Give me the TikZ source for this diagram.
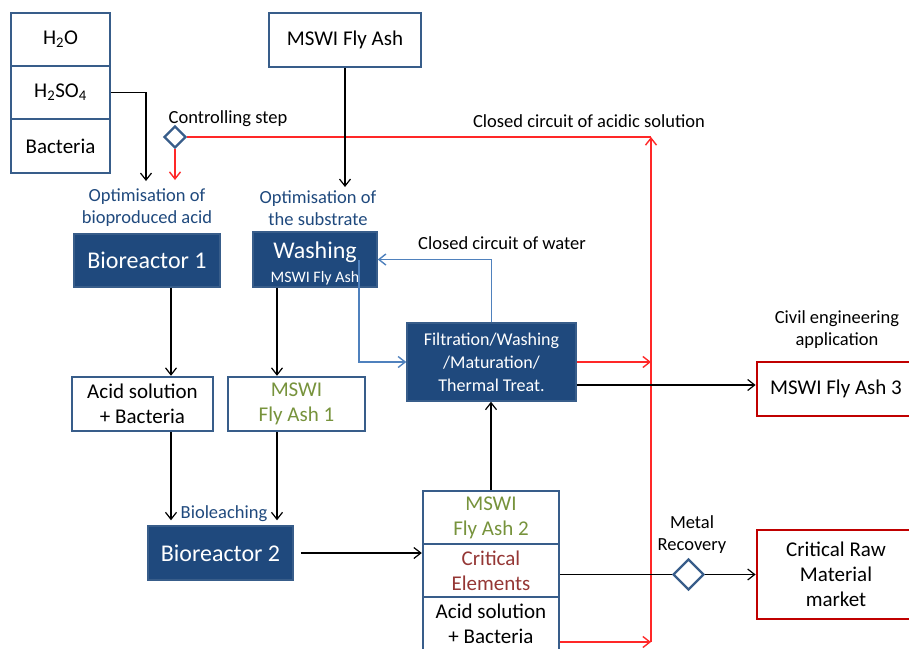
\documentclass[tikz,border=0pt]{standalone}
\usepackage{fontspec}
\setmainfont{Carlito}
\usetikzlibrary{arrows.meta,shapes.geometric,calc}

\definecolor{boxblue}{RGB}{56,93,138}
\definecolor{procblue}{RGB}{31,73,125}
\definecolor{ashgreen}{RGB}{119,147,60}
\definecolor{critred}{RGB}{149,55,53}
\definecolor{outred}{RGB}{192,0,0}
\definecolor{acidred}{RGB}{255,40,40}
\definecolor{waterblue}{RGB}{79,129,189}

\begin{document}
\begin{tikzpicture}[x=1pt,y=-1pt,
  font=\fontsize{21}{25}\selectfont,
  >={Straight Barb[length=7pt,width=11pt]},
  box/.style={draw=boxblue,line width=2.4pt,fill=white,inner sep=0pt,align=center},
  proc/.style={draw=boxblue,line width=1.5pt,fill=procblue,text=white,inner sep=0pt,align=center},
  market/.style={draw=outred,line width=2.8pt,fill=white,inner sep=0pt,align=center},
  lbl/.style={font=\fontsize{18.5}{22}\selectfont,align=center,inner sep=0pt},
  flow/.style={->,line width=1.2pt},
  acid/.style={line width=1.4pt,acidred},
  water/.style={->,line width=1.4pt,waterblue}]

\useasboundingbox (0,0) rectangle (909,648);

% inputs
\node[box,minimum width=99,minimum height=53] (h2o) at (60.5,39.5) {H\textsubscript{2}O};
\node[box,minimum width=99,minimum height=53] (hso) at (60.5,92.5) {H\textsubscript{2}SO\textsubscript{4}};
\node[box,minimum width=99,minimum height=54] (bact) at (60.5,146) {Bacteria};
\node[box,minimum width=152,minimum height=54] (ash) at (345,40) {MSWI Fly Ash};

\node[draw=boxblue,line width=2.4pt,diamond,minimum width=22,minimum height=22,inner sep=0pt] (ctrl) at (175,137) {};
\node[lbl] (ctrllbl) at (228,119) {Controlling step};
\node[lbl] (acidlbl) at (589,121) {Closed circuit of acidic solution};

\node[lbl,text=procblue] (optacid) at (147,208) {Optimisation of\\bioproduced acid};
\node[lbl,text=procblue] (optsub) at (318,208) {Optimisation of\\the substrate};

% reactors
\node[proc,minimum width=146,minimum height=53,font=\fontsize{24}{28}\selectfont] (bio1) at (147,260.5) {Bioreactor 1};
\node[proc,minimum width=124,minimum height=55] (wash) at (315,259.5)
  {{\fontsize{24}{26}\selectfont\rule{0pt}{25pt}Washing}\\[-1pt]{\fontsize{16}{18}\selectfont MSWI Fly Ash}};
\node[lbl] (waterlbl) at (502,243) {Closed circuit of water};
\node[proc,minimum width=169,minimum height=78,font=\fontsize{18}{23}\selectfont] (filt) at (491.5,362)
  {Filtration/Washing\\/Maturation/\\Thermal Treat.};

\node[lbl] (civil) at (837,330) {Civil engineering\\application};
\node[market,minimum width=158,minimum height=54] (ash3) at (836,389) {MSWI Fly Ash 3};

\node[box,minimum width=141,minimum height=54] (acid1) at (142.5,404) {Acid solution\\+ Bacteria};
\node[box,minimum width=137,minimum height=54,text=ashgreen] (fa1) at (296.5,404) {MSWI\\Fly Ash 1};

\node[lbl,text=procblue] (bioleach) at (224,514) {Bioleaching};
\node[proc,minimum width=145,minimum height=54,font=\fontsize{24}{28}\selectfont] (bio2) at (220.5,553) {Bioreactor 2};

% products
\node[box,minimum width=136,minimum height=53,text=ashgreen] (fa2) at (491,517.5) {MSWI\\Fly Ash 2};
\node[box,minimum width=136,minimum height=53,text=critred] (crit) at (491,570.5) {Critical\\Elements};
\node[box,minimum width=136,minimum height=53] (acid2) at (491,623.5) {Acid solution\\+ Bacteria};

\node[draw=boxblue,line width=2.4pt,diamond,minimum width=31,minimum height=31,inner sep=0pt] (metal) at (688.5,574.5) {};
\node[lbl] (metallbl) at (692,535) {Metal\\Recovery};
\node[market,minimum width=158,minimum height=89] (crm) at (836,574.5) {Critical Raw\\Material\\market};

\coordinate (ax) at (171,0);
\coordinate (fx) at (277,0);
\coordinate (rx) at (651,0);
\coordinate (wc) at (359,260);

% acid circuit
\draw[acid,->] (acid2.east |- 0,642) -- (rx |- 0,642) coordinate (rb);
\draw[acid,->] (rb) -- (rx |- ctrl.east) coordinate (rt);
\draw[acid] (rt) -- (ctrl.east);
\draw[acid,->] (ctrl.south) -- (ctrl.south |- 0,180);
\draw[acid,->] (filt.east) -- (rx |- filt.east);

% main flow
\draw[flow] (hso.east) -| (146,181);
\draw[flow] (ash.south) -- (ash.south |- 0,187);
\draw[flow] (bio1.south -| ax) -- (acid1.north -| ax);
\draw[flow] (wash.south -| fx) -- (fa1.north -| fx);
\draw[flow,shorten >=5pt] (acid1.south -| ax) -- (bio2.north -| ax);
\draw[flow,shorten >=5pt] (fa1.south -| fx) -- (bio2.north -| fx);
\draw[flow,shorten <=7pt] (bio2.east) -- (crit.west |- bio2.east);
\draw[flow] (fa2.north) -- (fa2.north |- filt.south);
\draw[flow] ($(filt.east)+(0,23)$) -- (ash3.west |- 0,385);
\draw[line width=1.2pt] (crit.east |- metal.west) -- (metal.west);
\draw[flow] (metal.east) -- (crm.west |- metal.east);

% water circuit
\draw[water] (filt.north) |- (wash.east);
\draw[water] (wc) |- (filt.west);

\end{tikzpicture}
\end{document}
